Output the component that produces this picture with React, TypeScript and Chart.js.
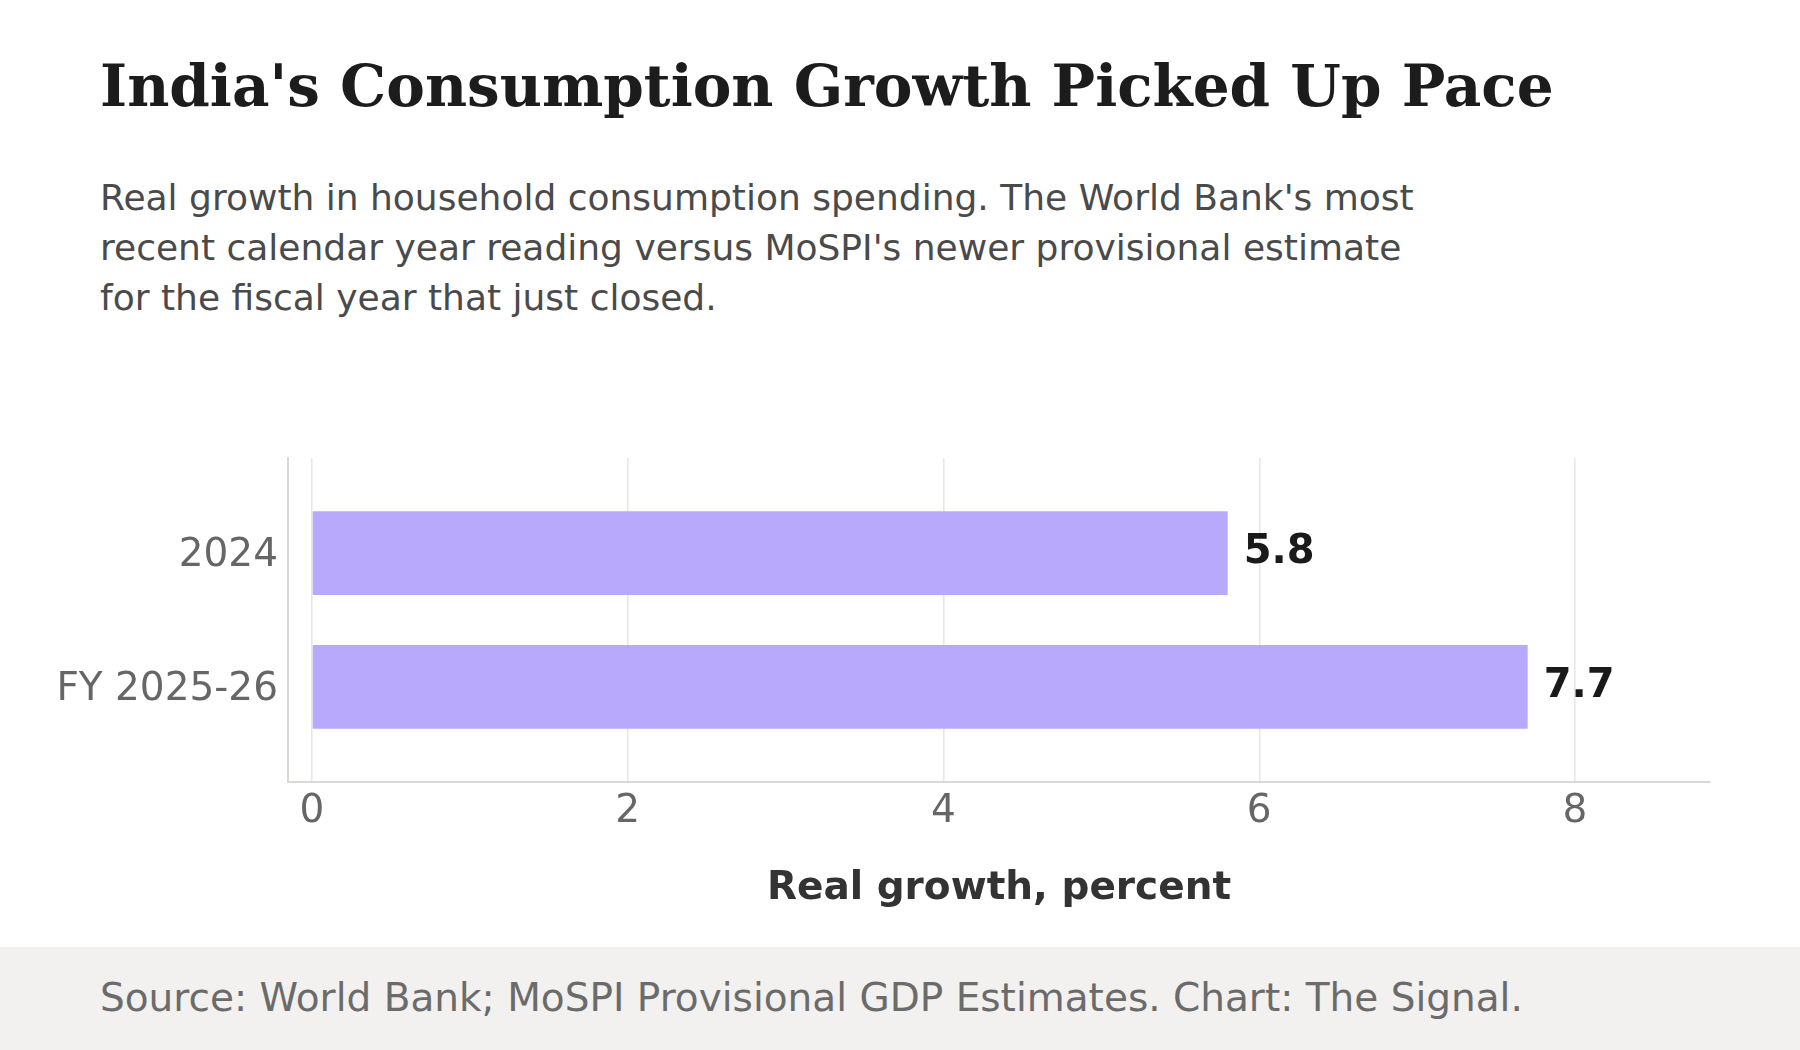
import { useEffect, useRef } from 'react'
import { Chart, registerables } from 'chart.js'

Chart.register(...registerables)

// data
const categories = ['2024', 'FY 2025-26']
const growth = [5.8, 7.7]
const xTicks = [0, 2, 4, 6, 8]

const TITLE = "India's Consumption Growth Picked Up Pace"
const SUBTITLE = [
  "Real growth in household consumption spending. The World Bank's most",
  "recent calendar year reading versus MoSPI's newer provisional estimate",
  'for the fiscal year that just closed.',
]
const SOURCE = 'Source: World Bank; MoSPI Provisional GDP Estimates. Chart: The Signal.'

const SANS = "'DejaVu Sans', sans-serif"

// writes the value just past the end of each bar
const valueLabels = {
  id: 'valueLabels',
  afterDatasetsDraw(chart: Chart) {
    const { ctx } = chart
    const meta = chart.getDatasetMeta(0)
    ctx.save()
    ctx.font = `bold 40px ${SANS}`
    ctx.fillStyle = '#1a1a1a'
    ctx.textAlign = 'left'
    ctx.textBaseline = 'middle'
    meta.data.forEach((bar: any, i: number) => {
      ctx.fillText(growth[i].toFixed(1), bar.x + 16, bar.y)
    })
    ctx.restore()
  },
}

function GrowthChart() {
  const canvasRef = useRef<HTMLCanvasElement>(null)
  const chartRef = useRef<Chart | null>(null)

  useEffect(() => {
    if (!canvasRef.current) return
    if (chartRef.current) chartRef.current.destroy()

    chartRef.current = new Chart(canvasRef.current, {
      type: 'bar',
      data: {
        datasets: [{
          data: categories.map((c, i) => ({ x: growth[i], y: i })),
          backgroundColor: '#b8a9fd',
          borderWidth: 0,
          categoryPercentage: 1,
          barPercentage: 0.625,
        }],
      },
      options: {
        indexAxis: 'y',
        animation: false,
        responsive: false,
        devicePixelRatio: 1,
        layout: { padding: { left: 0, right: 90, top: 38, bottom: 0 } },
        plugins: {
          legend: { display: false },
          tooltip: { enabled: false },
        },
        scales: {
          x: {
            type: 'linear',
            min: -0.152,
            max: 8.855,
            afterBuildTicks: (s: any) => { s.ticks = xTicks.map(v => ({ value: v })) },
            afterFit: (s: any) => { s.height = 158 },
            grid: { color: '#e6e6e6', lineWidth: 1.5, drawTicks: false },
            border: { display: true, color: '#d9d9d4', width: 2 },
            ticks: {
              color: '#666666',
              font: { family: SANS, size: 39 },
              padding: 6,
              callback: (v: any) => String(v),
            },
            title: {
              display: true,
              text: 'Real growth, percent',
              color: '#333333',
              font: { family: SANS, size: 39, weight: 'bold' },
              padding: { top: 0, bottom: 27.5 },
            },
          },
          y: {
            // linear index axis so the category band can be padded like the original
            type: 'linear',
            reverse: true,
            offset: false,
            min: -0.71,
            max: 1.71,
            afterDataLimits: (s: any) => { s.min = -0.71; s.max = 1.71 },
            afterBuildTicks: (s: any) => { s.ticks = categories.map((c, i) => ({ value: i })) },
            afterFit: (s: any) => { s.width = 288 },
            grid: { display: false, offset: false, drawTicks: false },
            border: { display: true, color: '#d9d9d4', width: 2 },
            ticks: {
              color: '#666666',
              font: { family: SANS, size: 39 },
              padding: 10,
              labelOffset: 3,
              callback: (v: any) => categories[v] ?? '',
            },
          },
        },
      },
      plugins: [valueLabels],
    } as any)

    return () => {
      if (chartRef.current) {
        chartRef.current.destroy()
        chartRef.current = null
      }
    }
  }, [])

  return (
    <canvas
      ref={canvasRef}
      width={1800}
      height={520}
      style={{ position: 'absolute', left: 0, top: 420, width: 1800, height: 520 }}
    />
  )
}

export default function App() {
  return (
    <div style={{ position: 'absolute', left: 0, top: 0, width: 1800, height: 1050, background: '#ffffff', overflow: 'hidden' }}>
      <div style={{
        position: 'absolute', left: 100, top: 57, whiteSpace: 'nowrap',
        fontFamily: "'DejaVu Serif', serif", fontWeight: 'bold', fontSize: 58, lineHeight: '58px', color: '#1c1c1c',
      }}>{TITLE}</div>
      <div style={{
        position: 'absolute', left: 100, top: 173,
        fontFamily: SANS, fontSize: 36, lineHeight: '50px', color: '#4a4a4a',
      }}>
        {SUBTITLE.map((line, i) => <div key={i} style={{ whiteSpace: 'nowrap' }}>{line}</div>)}
      </div>
      <GrowthChart />
      <div style={{
        position: 'absolute', left: 0, top: 947, width: 1800, height: 103, background: '#f2f1ef',
      }}>
        <div style={{
          position: 'absolute', left: 100, top: 30.5, lineHeight: '39px', whiteSpace: 'nowrap',
          fontFamily: SANS, fontSize: 39, color: '#6b6b6b',
        }}>{SOURCE}</div>
      </div>
    </div>
  )
}
